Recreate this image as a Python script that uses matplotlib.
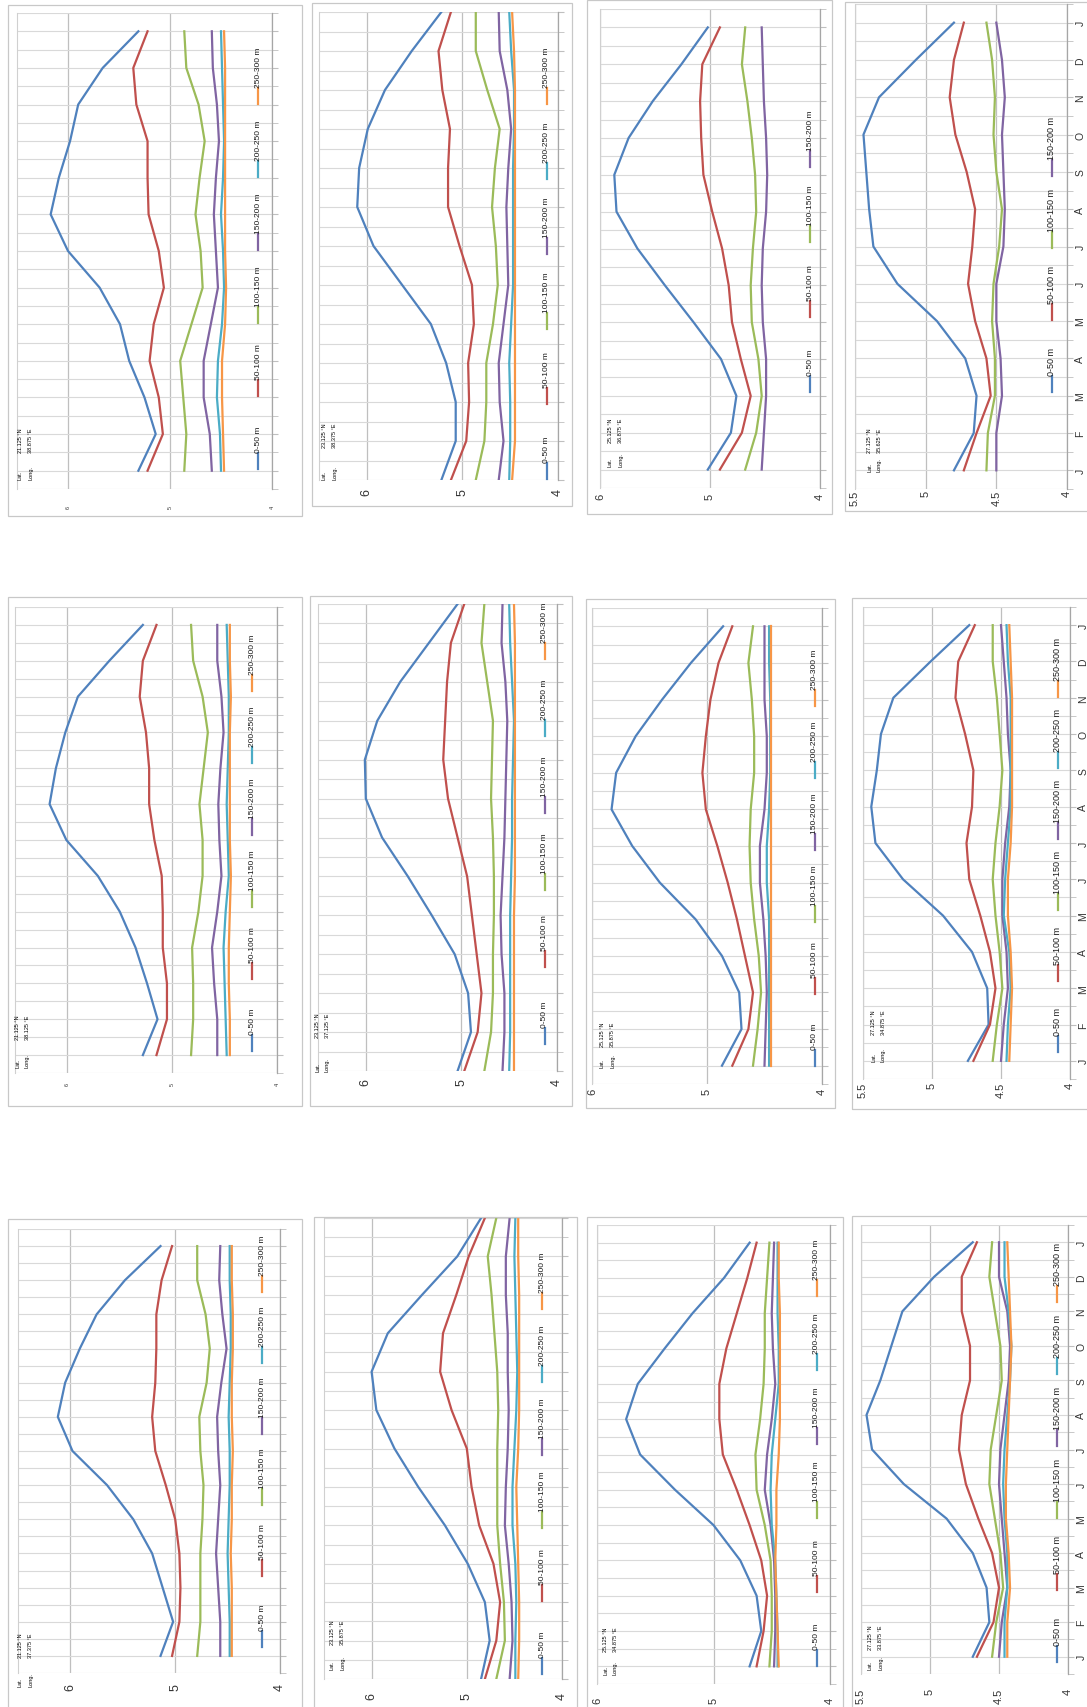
import numpy as np
import matplotlib
matplotlib.use('Agg')
import matplotlib.pyplot as plt
from matplotlib.patches import Rectangle
from matplotlib.lines import Line2D

plt.rcParams['font.family'] = ['Liberation Sans', 'DejaVu Sans']

W, H = 1087, 1708

months = ['J', 'F', 'M', 'A', 'M', 'J', 'J', 'A', 'S', 'O', 'N', 'D', 'J']
depths = ['0-50 m', '50-100 m', '100-150 m', '150-200 m', '200-250 m', '250-300 m']
colors = ['#4F81BD', '#C0504D', '#9BBB59', '#8064A2', '#4BACC6', '#F79646']

# station coordinates, row by row
lats = ['21.125', '23.125', '25.125', '27.125',
        '21.125', '23.125', '25.125', '27.125',
        '21.125', '23.125', '25.125', '27.125']
longs = ['38.875', '38.375', '36.875', '35.625',
         '38.125', '37.125', '35.875', '34.875',
         '37.375', '35.875', '34.875', '33.875']

# monthly values (Jan..Dec, Jan) per depth layer
s21_38875 = [[5.31, 5.14, 5.25, 5.40, 5.49, 5.69, 6.00, 6.17, 6.09, 5.98, 5.90, 5.66, 5.31],
             [5.22, 5.07, 5.11, 5.20, 5.16, 5.06, 5.11, 5.21, 5.22, 5.22, 5.33, 5.36, 5.22],
             [4.86, 4.84, 4.87, 4.90, 4.79, 4.68, 4.70, 4.75, 4.71, 4.66, 4.72, 4.84, 4.86],
             [4.59, 4.61, 4.67, 4.67, 4.60, 4.53, 4.55, 4.57, 4.55, 4.52, 4.54, 4.58, 4.59],
             [4.50, 4.51, 4.54, 4.53, 4.49, 4.47, 4.48, 4.50, 4.48, 4.47, 4.48, 4.49, 4.50],
             [4.47, 4.48, 4.49, 4.49, 4.46, 4.45, 4.46, 4.46, 4.46, 4.46, 4.46, 4.46, 4.47]]
s23_38375 = [[5.22, 5.07, 5.07, 5.17, 5.33, 5.63, 5.93, 6.10, 6.08, 5.99, 5.81, 5.53, 5.22],
             [5.12, 4.96, 4.93, 4.94, 4.88, 4.90, 5.03, 5.15, 5.15, 5.13, 5.21, 5.25, 5.12],
             [4.86, 4.77, 4.75, 4.75, 4.68, 4.63, 4.65, 4.69, 4.66, 4.61, 4.74, 4.86, 4.86],
             [4.62, 4.57, 4.61, 4.62, 4.57, 4.52, 4.53, 4.54, 4.52, 4.49, 4.53, 4.61, 4.62],
             [4.51, 4.50, 4.50, 4.51, 4.49, 4.47, 4.47, 4.47, 4.47, 4.46, 4.46, 4.49, 4.51],
             [4.48, 4.45, 4.45, 4.45, 4.45, 4.45, 4.45, 4.45, 4.45, 4.45, 4.45, 4.46, 4.48]]
s25_36875 = [[5.02, 4.81, 4.76, 4.90, 5.15, 5.41, 5.66, 5.85, 5.87, 5.74, 5.52, 5.26, 5.02],
             [4.91, 4.71, 4.63, 4.72, 4.80, 4.83, 4.89, 4.98, 5.06, 5.08, 5.09, 5.07, 4.91],
             [4.68, 4.58, 4.53, 4.56, 4.62, 4.63, 4.61, 4.58, 4.59, 4.62, 4.66, 4.71, 4.68],
             [4.53, 4.51, 4.49, 4.49, 4.52, 4.53, 4.52, 4.49, 4.48, 4.49, 4.51, 4.52, 4.53]]
s27_35625 = [[4.80, 4.66, 4.64, 4.72, 4.92, 5.20, 5.37, 5.40, 5.42, 5.44, 5.33, 5.07, 4.80],
             [4.73, 4.64, 4.54, 4.57, 4.65, 4.70, 4.67, 4.65, 4.71, 4.79, 4.83, 4.80, 4.73],
             [4.57, 4.56, 4.51, 4.51, 4.53, 4.52, 4.48, 4.46, 4.50, 4.52, 4.51, 4.53, 4.57],
             [4.50, 4.50, 4.46, 4.47, 4.50, 4.50, 4.45, 4.44, 4.45, 4.46, 4.44, 4.46, 4.50]]
s21_38125 = [[5.28, 5.14, 5.24, 5.35, 5.50, 5.71, 6.01, 6.17, 6.11, 6.02, 5.90, 5.60, 5.28],
             [5.15, 5.05, 5.05, 5.09, 5.09, 5.10, 5.17, 5.22, 5.22, 5.25, 5.31, 5.28, 5.15],
             [4.82, 4.80, 4.80, 4.81, 4.75, 4.71, 4.71, 4.74, 4.70, 4.66, 4.71, 4.80, 4.82],
             [4.57, 4.57, 4.60, 4.62, 4.57, 4.53, 4.55, 4.56, 4.54, 4.51, 4.53, 4.57, 4.57],
             [4.48, 4.49, 4.50, 4.51, 4.49, 4.46, 4.47, 4.48, 4.47, 4.46, 4.46, 4.47, 4.48],
             [4.45, 4.45, 4.46, 4.46, 4.45, 4.44, 4.45, 4.45, 4.45, 4.45, 4.44, 4.45, 4.45]]
s23_37125 = [[5.04, 4.90, 4.93, 5.07, 5.31, 5.56, 5.83, 6.00, 6.01, 5.88, 5.64, 5.34, 5.04],
             [4.97, 4.83, 4.79, 4.84, 4.89, 4.94, 5.04, 5.14, 5.19, 5.17, 5.15, 5.11, 4.97],
             [4.76, 4.69, 4.67, 4.67, 4.66, 4.66, 4.67, 4.69, 4.68, 4.67, 4.73, 4.79, 4.76],
             [4.57, 4.55, 4.55, 4.58, 4.59, 4.57, 4.55, 4.54, 4.53, 4.52, 4.54, 4.58, 4.57],
             [4.50, 4.49, 4.49, 4.49, 4.49, 4.48, 4.47, 4.47, 4.46, 4.45, 4.47, 4.49, 4.50],
             [4.45, 4.45, 4.45, 4.45, 4.45, 4.44, 4.44, 4.44, 4.44, 4.44, 4.44, 4.44, 4.45]]
s25_35875 = [[4.87, 4.70, 4.72, 4.87, 5.10, 5.41, 5.65, 5.83, 5.79, 5.62, 5.39, 5.14, 4.86],
             [4.78, 4.64, 4.60, 4.67, 4.74, 4.82, 4.91, 5.01, 5.04, 5.01, 4.97, 4.90, 4.78],
             [4.60, 4.56, 4.53, 4.55, 4.59, 4.62, 4.63, 4.62, 4.59, 4.59, 4.61, 4.64, 4.60],
             [4.50, 4.49, 4.48, 4.49, 4.51, 4.54, 4.54, 4.50, 4.48, 4.48, 4.50, 4.50, 4.50],
             [4.46, 4.46, 4.46, 4.46, 4.46, 4.48, 4.48, 4.46, 4.45, 4.45, 4.45, 4.46, 4.46],
             [4.44, 4.44, 4.44, 4.44, 4.44, 4.44, 4.44, 4.44, 4.44, 4.44, 4.44, 4.44, 4.44]]
s27_34875 = [[4.74, 4.59, 4.60, 4.71, 4.92, 5.21, 5.41, 5.44, 5.40, 5.37, 5.28, 5.01, 4.73],
             [4.70, 4.58, 4.54, 4.58, 4.65, 4.73, 4.75, 4.71, 4.70, 4.76, 4.83, 4.81, 4.69],
             [4.56, 4.53, 4.49, 4.51, 4.54, 4.56, 4.54, 4.51, 4.49, 4.51, 4.53, 4.56, 4.56],
             [4.50, 4.48, 4.45, 4.46, 4.49, 4.49, 4.47, 4.44, 4.43, 4.45, 4.46, 4.48, 4.50],
             [4.46, 4.45, 4.43, 4.44, 4.48, 4.47, 4.45, 4.43, 4.43, 4.43, 4.43, 4.45, 4.46],
             [4.44, 4.43, 4.42, 4.43, 4.45, 4.45, 4.43, 4.42, 4.42, 4.42, 4.42, 4.43, 4.44]]
s21_37375 = [[5.14, 5.02, 5.12, 5.22, 5.40, 5.65, 5.98, 6.12, 6.05, 5.91, 5.75, 5.48, 5.14],
             [5.03, 4.96, 4.95, 4.96, 5.00, 5.09, 5.19, 5.22, 5.19, 5.18, 5.18, 5.13, 5.03],
             [4.79, 4.76, 4.76, 4.76, 4.74, 4.73, 4.76, 4.77, 4.70, 4.67, 4.71, 4.79, 4.79],
             [4.57, 4.57, 4.59, 4.61, 4.59, 4.57, 4.59, 4.60, 4.56, 4.51, 4.55, 4.58, 4.57],
             [4.48, 4.48, 4.49, 4.50, 4.49, 4.48, 4.48, 4.49, 4.48, 4.47, 4.47, 4.48, 4.48],
             [4.46, 4.46, 4.46, 4.47, 4.46, 4.46, 4.45, 4.46, 4.46, 4.45, 4.45, 4.46, 4.46]]
s23_35875 = [[4.85, 4.76, 4.81, 4.99, 5.23, 5.51, 5.76, 5.95, 6.00, 5.83, 5.47, 5.10, 4.85],
             [4.81, 4.69, 4.65, 4.72, 4.87, 4.95, 5.00, 5.16, 5.28, 5.25, 5.11, 4.98, 4.81],
             [4.69, 4.60, 4.61, 4.65, 4.68, 4.68, 4.68, 4.67, 4.68, 4.71, 4.74, 4.78, 4.69],
             [4.55, 4.52, 4.53, 4.56, 4.60, 4.59, 4.57, 4.56, 4.57, 4.57, 4.59, 4.59, 4.55],
             [4.49, 4.49, 4.48, 4.49, 4.52, 4.52, 4.50, 4.48, 4.47, 4.48, 4.49, 4.50, 4.49],
             [4.46, 4.45, 4.45, 4.46, 4.47, 4.48, 4.46, 4.45, 4.45, 4.45, 4.45, 4.46, 4.46]]
s25_34875 = [[4.69, 4.59, 4.63, 4.77, 5.00, 5.33, 5.63, 5.75, 5.65, 5.42, 5.18, 4.91, 4.69],
             [4.63, 4.57, 4.54, 4.59, 4.69, 4.80, 4.92, 4.95, 4.95, 4.89, 4.80, 4.71, 4.63],
             [4.52, 4.50, 4.50, 4.51, 4.56, 4.63, 4.64, 4.60, 4.57, 4.56, 4.56, 4.54, 4.52],
             [4.48, 4.47, 4.47, 4.48, 4.51, 4.56, 4.54, 4.50, 4.47, 4.49, 4.50, 4.49, 4.48],
             [4.45, 4.45, 4.46, 4.47, 4.50, 4.51, 4.50, 4.47, 4.44, 4.44, 4.45, 4.45, 4.45],
             [4.44, 4.45, 4.46, 4.47, 4.46, 4.46, 4.44, 4.43, 4.43, 4.43, 4.43, 4.44, 4.44]]
s27_33875 = [[4.69, 4.57, 4.59, 4.69, 4.88, 5.19, 5.42, 5.46, 5.36, 5.28, 5.20, 4.97, 4.69],
             [4.66, 4.54, 4.50, 4.55, 4.65, 4.74, 4.79, 4.77, 4.71, 4.71, 4.77, 4.77, 4.66],
             [4.55, 4.52, 4.47, 4.49, 4.53, 4.57, 4.56, 4.52, 4.48, 4.49, 4.53, 4.57, 4.55],
             [4.50, 4.48, 4.44, 4.46, 4.48, 4.50, 4.49, 4.46, 4.43, 4.42, 4.44, 4.50, 4.50],
             [4.46, 4.46, 4.44, 4.44, 4.46, 4.47, 4.46, 4.44, 4.42, 4.41, 4.43, 4.46, 4.46],
             [4.44, 4.44, 4.42, 4.43, 4.45, 4.45, 4.44, 4.43, 4.42, 4.41, 4.42, 4.43, 4.44]]

stations = [s21_38875, s23_38375, s25_36875, s27_35625,
            s21_38125, s23_37125, s25_35875, s27_34875,
            s21_37375, s23_35875, s25_34875, s27_33875]

# page layout in pixels (the page is turned a quarter turn):
# plot (left, top, right, bottom), month padding, value max, value step,
# frame box, tick font, tick pad(px), legend (x, y0, spacing, font), lat/long (x, y, offset)
layout = [
    dict(plot=(17, 14, 272, 490), pad=0.5, vmax=6.5, step=1.0, box=(8, 6, 302, 517),
         tfs=4, tpad=16, leg=(258, 470, 73, 6), ll=(18, 480, 27)),
    dict(plot=(319, 13, 558, 481), pad=0.0, vmax=6.5, step=1.0, box=(312, 4, 572, 507),
         tfs=9, tpad=8, leg=(547, 480, 75, 6), ll=(322, 480, 32)),
    dict(plot=(600, 10, 820, 489), pad=0.5, vmax=6.0, step=1.0, box=(587, 1, 832, 515),
         tfs=8, tpad=5, leg=(810, 393, 75, 6), ll=(608, 467, 24)),
    dict(plot=(855, 5, 1067, 490), pad=0.5, vmax=5.5, step=0.5, box=(845, 3, 1090, 512),
         tfs=8, tpad=1, leg=(1052, 393, 72, 6.5), ll=(867, 472, 19)),
    dict(plot=(15, 608, 277, 1074), pad=0.5, vmax=6.5, step=1.0, box=(8, 598, 302, 1107),
         tfs=4, tpad=9, leg=(252, 1052, 72, 6), ll=(15, 1068, 28)),
    dict(plot=(318, 605, 557, 1072), pad=0.0, vmax=6.5, step=1.0, box=(310, 597, 572, 1107),
         tfs=9, tpad=7, leg=(545, 1045, 77, 6), ll=(315, 1072, 34)),
    dict(plot=(592, 609, 822, 1085), pad=0.5, vmax=6.0, step=1.0, box=(586, 600, 835, 1109),
         tfs=8, tpad=4, leg=(815, 1067, 72, 6), ll=(600, 1068, 21)),
    dict(plot=(863, 608, 1070, 1080), pad=0.5, vmax=5.5, step=0.5, box=(852, 599, 1090, 1110),
         tfs=8, tpad=3, leg=(1058, 1053, 71, 6.5), ll=(871, 1062, 27)),
    dict(plot=(18, 1230, 280, 1674), pad=0.5, vmax=6.5, step=1.0, box=(8, 1220, 302, 1720),
         tfs=9, tpad=10, leg=(262, 1648, 71, 6), ll=(18, 1687, 29)),
    dict(plot=(324, 1219, 562, 1680), pad=0.0, vmax=6.5, step=1.0, box=(314, 1218, 577, 1720),
         tfs=9, tpad=13, leg=(542, 1675, 73, 6), ll=(330, 1670, 25)),
    dict(plot=(597, 1226, 830, 1685), pad=0.5, vmax=6.0, step=1.0, box=(587, 1218, 843, 1720),
         tfs=8, tpad=13, leg=(817, 1667, 74, 6), ll=(603, 1675, 23)),
    dict(plot=(861, 1226, 1068, 1675), pad=0.5, vmax=5.5, step=0.5, box=(852, 1217, 1090, 1720),
         tfs=8, tpad=14, leg=(1057, 1663, 72, 6.5), ll=(868, 1670, 20)),
]


def fx(x):
    return x / W


def fy(y):
    return 1 - y / H


fig = plt.figure(figsize=(W / 100, H / 100), dpi=100)
fig.patch.set_facecolor('white')

for i, (series, lay) in enumerate(zip(stations, layout)):
    col = i % 4
    L, T, R, B = lay['plot']

    # frame of the chart
    bl, bt, br, bb = lay['box']
    fig.add_artist(Rectangle((fx(bl), fy(bb)), fx(br - bl), (bb - bt) / H,
                             transform=fig.transFigure, fill=False,
                             ec='#C8C8C8', lw=0.9))

    ax = fig.add_axes([fx(L), fy(B), fx(R - L), (B - T) / H])
    mi = np.arange(len(months))
    for k, vals in enumerate(series):
        ax.plot(vals, mi, color=colors[k], lw=1.6, zorder=3)

    pad = lay['pad']
    ax.set_xlim(lay['vmax'], 4.0)
    ax.set_ylim(-pad, len(months) - 1 + pad)

    ticks = np.arange(4.0, lay['vmax'] + 0.001, lay['step'])
    ax.set_xticks(ticks)
    ax.set_xticklabels(['%g' % t for t in ticks], rotation=90,
                       fontsize=lay['tfs'], color='#333333')
    ax.tick_params(axis='x', length=0, pad=lay['tpad'] * 0.72)

    ax.yaxis.tick_right()
    ax.set_yticks(mi)
    ax.set_yticks(np.arange(-pad, len(months) - 1 + pad + 0.01, 0.5), minor=True)
    if col == 3:
        ax.set_yticklabels(months, rotation=90, va='center', fontsize=7.5, color='#333333')
    else:
        ax.set_yticklabels([])
    ax.tick_params(axis='y', which='both', length=4, color='#BFBFBF', pad=2)

    ax.grid(axis='y', which='both', color='#D9D9D9', lw=0.8)
    ax.grid(axis='x', which='major', color='#BFBFBF', lw=0.9)
    ax.set_axisbelow(True)
    for s in ['top', 'bottom']:
        ax.spines[s].set_visible(False)
    ax.spines['right'].set_color('#A6A6A6')
    ax.spines['right'].set_linewidth(0.9)
    ax.spines['left'].set_color('#D0D0D0')
    ax.spines['left'].set_linewidth(0.8)

    # legend, turned like the rest of the page
    lx, ly, lsp, lfs = lay['leg']
    for k in range(len(series)):
        yb = ly - k * lsp
        fig.add_artist(Line2D([fx(lx), fx(lx)], [fy(yb), fy(yb - 16)],
                              transform=fig.transFigure, color=colors[k], lw=1.6))
        fig.text(fx(lx), fy(yb - 17), depths[k], rotation=90, ha='center',
                 va='bottom', fontsize=lfs, color='#1A1A1A')

    # station label
    tx, ty, dv = lay['ll']
    fig.text(fx(tx), fy(ty), 'Lat.', rotation=90, ha='left', va='bottom', fontsize=4)
    fig.text(fx(tx + 10), fy(ty), 'Long.', rotation=90, ha='left', va='bottom', fontsize=4)
    fig.text(fx(tx), fy(ty - dv), lats[i] + ' °N', rotation=90, ha='left', va='bottom', fontsize=4)
    fig.text(fx(tx + 10), fy(ty - dv), longs[i] + ' °E', rotation=90, ha='left', va='bottom', fontsize=4)

fig.savefig('out.png', dpi=100)
